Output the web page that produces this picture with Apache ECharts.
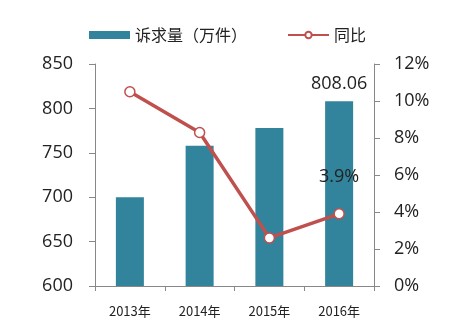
<!DOCTYPE html>
<html>
<head>
<meta charset="utf-8">
<script src="https://cdn.jsdelivr.net/npm/echarts@6/dist/echarts.min.js"></script>
<style>
  html, body { margin: 0; padding: 0; background: #fff; }
  #chart { width: 461px; height: 325px; }
</style>
</head>
<body>
<div id="chart"></div>
<script>
// Annual complaint volume (10k cases) and year-on-year growth
const years = ['2013年', '2014年', '2015年', '2016年'];
const volume = [700, 758, 778, 808.06];
const growth = [10.5, 8.3, 2.6, 3.9];
const leftTicks = [600, 650, 700, 750, 800, 850];
const rightTicks = [0, 2, 4, 6, 8, 10, 12];

const FONT = '"Open Sans", "Noto Sans CJK SC", sans-serif';
const chart = echarts.init(document.getElementById('chart'));
chart.setOption({
  animation: false,
  textStyle: { fontFamily: FONT },
  legend: {
    top: 22,
    left: 84,
    itemWidth: 41,
    itemHeight: 8,
    itemGap: 40,
    textStyle: { fontSize: 16, color: '#222', fontFamily: '"Noto Sans CJK SC", sans-serif' },
    data: [
      { name: '诉求量（万件）', icon: 'rect' },
      { name: '同比' }
    ]
  },
  grid: { left: 95, right: 87, top: 64, bottom: 39 },
  xAxis: {
    type: 'category',
    data: years,
    axisLine: { lineStyle: { color: '#888' } },
    axisTick: { show: true, alignWithLabel: false, length: 5, lineStyle: { color: '#888' } },
    axisLabel: { color: '#222', fontSize: 13, margin: 19, fontFamily: '"Noto Sans CJK SC", sans-serif' }
  },
  yAxis: [
    {
      type: 'value',
      min: leftTicks[0],
      max: leftTicks[leftTicks.length - 1],
      interval: 50,
      axisLine: { show: true, lineStyle: { color: '#888' } },
      axisTick: { show: true, length: 6, lineStyle: { color: '#888' } },
      splitLine: { show: false },
      axisLabel: { color: '#222', fontSize: 18, margin: 22 }
    },
    {
      type: 'value',
      min: rightTicks[0],
      max: rightTicks[rightTicks.length - 1],
      interval: 2,
      axisLine: { show: true, lineStyle: { color: '#888' } },
      axisTick: { show: true, length: 6, lineStyle: { color: '#888' } },
      splitLine: { show: false },
      axisLabel: { color: '#222', fontSize: 18, margin: 20, formatter: v => v + '%' }
    }
  ],
  series: [
    {
      name: '诉求量（万件）',
      type: 'bar',
      data: volume.map((v, i) => ({
        value: v,
        label: i === volume.length - 1
          ? { show: true, position: 'top', distance: 8, fontSize: 18, color: '#222', formatter: p => p.value.toFixed(2) }
          : { show: false }
      })),
      barWidth: 28,
      itemStyle: { color: '#31849B' }
    },
    {
      name: '同比',
      type: 'line',
      yAxisIndex: 1,
      data: growth.map((v, i) => ({
        value: v,
        label: i === growth.length - 1
          ? { show: true, position: 'top', distance: 22, fontSize: 18, color: '#222', formatter: p => p.value.toFixed(1) + '%' }
          : { show: false }
      })),
      symbol: 'circle',
      symbolSize: 10,
      itemStyle: { color: '#fff', borderColor: '#C0504D', borderWidth: 1.5 },
      lineStyle: { color: '#C0504D', width: 3.5 }
    }
  ]
});
</script>
</body>
</html>
